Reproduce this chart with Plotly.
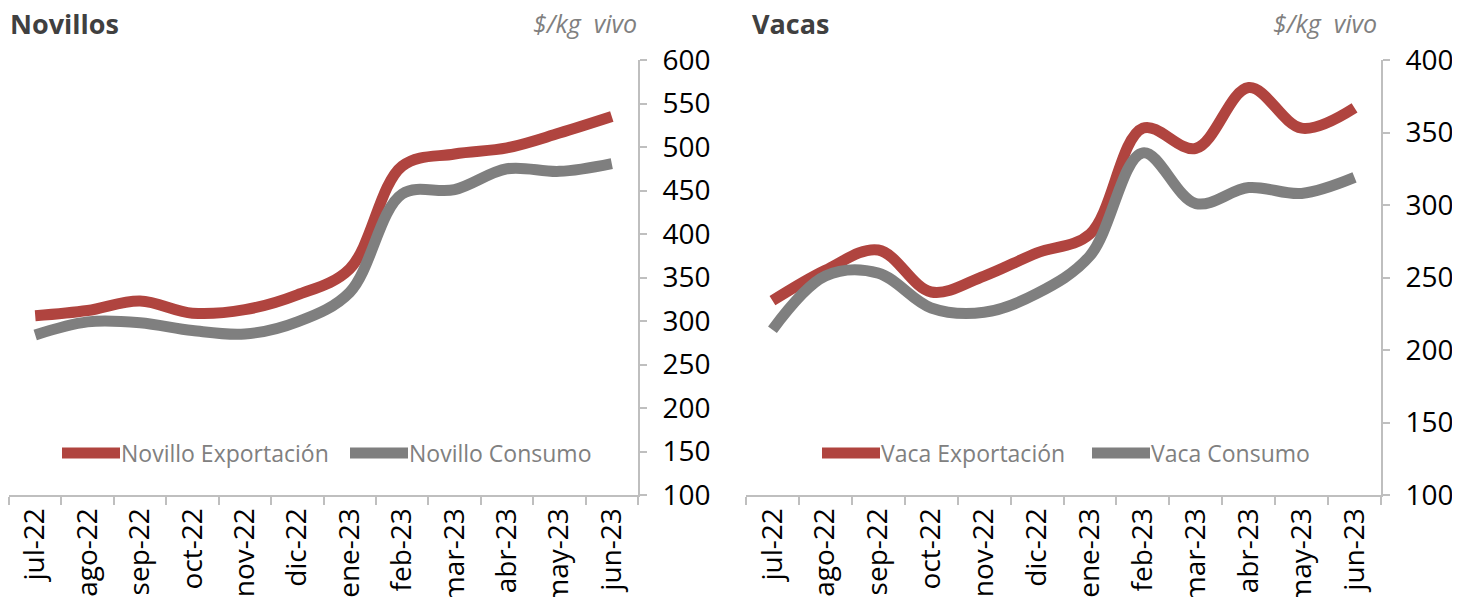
import plotly.graph_objects as go

# The page body has an 8px default margin, so the figure is drawn 8px smaller
# and all reference pixel positions are shifted by that offset.
OFF = 8
W, H = 1460 - OFF, 597 - OFF

categories = ["jul-22", "ago-22", "sep-22", "oct-22", "nov-22", "dic-22",
              "ene-23", "feb-23", "mar-23", "abr-23", "may-23", "jun-23"]
novillo_exportacion = [306, 312, 323, 309, 313, 330, 360, 478, 492, 499, 516, 535]
novillo_consumo = [284, 299, 298, 289, 285, 299, 333, 446, 451, 475, 472, 481]
vaca_exportacion = [234, 255, 269, 240, 251, 267, 280, 353, 339, 381, 353, 367]
vaca_consumo = [214, 251, 253, 229, 226, 239, 265, 336, 301, 312, 308, 319]
novillos_ticks = [100, 150, 200, 250, 300, 350, 400, 450, 500, 550, 600]
vacas_ticks = [100, 150, 200, 250, 300, 350, 400]

RED = "#B0443F"
GREY = "#7F7F7F"
AXIS = "#BFBFBF"
FONT = "Open Sans"

fig = go.Figure()

def add_line(x, y, color, name, xa, ya):
    fig.add_trace(go.Scatter(x=x, y=y, mode="lines", name=name, xaxis=xa, yaxis=ya,
                             line=dict(color=color, width=11, shape="spline", smoothing=1),
                             showlegend=False, hoverinfo="x+y+name"))

add_line(categories, novillo_exportacion, RED, "Novillo Exportación", "x", "y")
add_line(categories, novillo_consumo, GREY, "Novillo Consumo", "x", "y")
add_line(categories, vaca_exportacion, RED, "Vaca Exportación", "x2", "y2")
add_line(categories, vaca_consumo, GREY, "Vaca Consumo", "x2", "y2")

def px(x):
    return (x - OFF) / W

def py(y):
    return 1 - (y - OFF) / H

ydom = [py(495), py(60)]

xaxis_common = dict(type="category", showline=True, linecolor=AXIS, linewidth=2,
                    ticks="outside", tickson="boundaries", ticklen=8, tickcolor=AXIS, tickwidth=2,
                    tickangle=-90, showgrid=False, zeroline=False, automargin=False,
                    tickfont=dict(family=FONT, size=28, color="#000000"),
                    range=[-0.5, 11.5], fixedrange=True)
yaxis_common = dict(showline=True, linecolor=AXIS, linewidth=2, ticks="outside", ticklen=7,
                    tickcolor=AXIS, tickwidth=2, showgrid=False, zeroline=False, side="right",
                    automargin=False, ticklabelstandoff=10,
                    tickfont=dict(family=FONT, size=28, color="#000000"), domain=ydom)

fig.update_layout(
    width=W, height=H,
    margin=dict(l=0, r=0, t=0, b=0),
    paper_bgcolor="white", plot_bgcolor="white",
    xaxis=dict(domain=[px(9), px(638)], anchor="y", **xaxis_common),
    xaxis2=dict(domain=[px(746), px(1381)], anchor="y2", **xaxis_common),
    yaxis=dict(anchor="x", range=[100, 600], tickvals=novillos_ticks, **yaxis_common),
    yaxis2=dict(anchor="x2", range=[100, 400], tickvals=vacas_ticks, **yaxis_common),
)

annotations = []
# Titles
for x, text in [(8, "Novillos"), (750, "Vacas")]:
    annotations.append(dict(x=px(x), y=py(3), xref="paper", yref="paper", xanchor="left", yanchor="top",
                            text="<b>" + text + "</b>", showarrow=False,
                            font=dict(family=FONT, size=27, color="#404040")))
for x in [639, 1379]:
    annotations.append(dict(x=px(x), y=py(4), xref="paper", yref="paper", xanchor="right", yanchor="top",
                            text="<i>$/kg\u00a0\u00a0vivo</i>", showarrow=False,
                            font=dict(family=FONT, size=25, color="#808080")))

# Legends (manual)
legend_items = [
    (62, 120, RED, "Novillo Exportación"),
    (350, 408, GREY, "Novillo Consumo"),
    (822, 880, RED, "Vaca Exportación"),
    (1092, 1150, GREY, "Vaca Consumo"),
]
shapes = []
for x0, x1, color, label in legend_items:
    shapes.append(dict(type="line", xref="paper", yref="paper", x0=px(x0), x1=px(x1),
                       y0=py(453), y1=py(453), line=dict(color=color, width=11)))
    annotations.append(dict(x=px(x1 - 1), y=py(453), xref="paper", yref="paper", xanchor="left",
                            yanchor="middle", text=label, showarrow=False,
                            font=dict(family=FONT, size=23, color="#808080")))

fig.update_layout(annotations=annotations, shapes=shapes)

fig.write_html("out.html")
